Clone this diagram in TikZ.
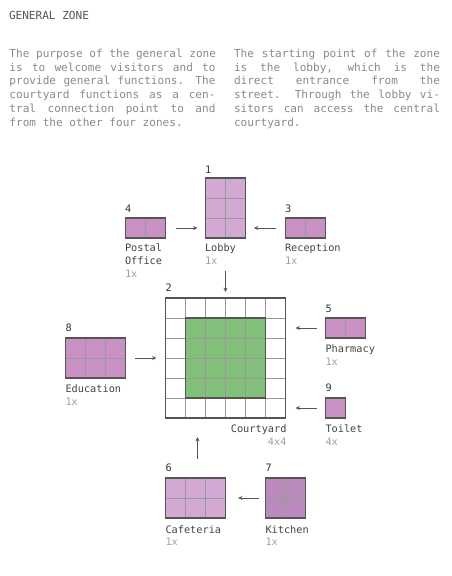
\documentclass[tikz,border=0pt]{standalone}
\usepackage{fontspec}
\newfontfamily\monof{DejaVu Sans Mono}
\usetikzlibrary{arrows.meta}
\definecolor{titlec}{HTML}{555555}
\definecolor{parac}{HTML}{8A8A8A}
\definecolor{labc}{HTML}{444444}
\definecolor{numc}{HTML}{333333}
\definecolor{cntc}{HTML}{A0A0A0}
\definecolor{bordc}{HTML}{555555}
\definecolor{gridc}{HTML}{999999}
\definecolor{arrc}{HTML}{555555}
\definecolor{lightp}{HTML}{D3A9D3}
\definecolor{midp}{HTML}{C990C4}
\definecolor{darkp}{HTML}{B98ABB}
\definecolor{greenc}{HTML}{82BF7A}
\newlength\colw
\setlength\colw{154.5pt}
\newcommand\jline[1]{\hbox to \colw{\spaceskip=\fontdimen2\font plus 1fil\relax #1}}
\newcommand\lline[1]{\hbox to \colw{#1\hfil}}
\newcommand\bigf{\monof\fontsize{8.3}{10.3}\selectfont}
\newcommand\smallf{\monof\fontsize{7.7}{9.5}\selectfont}
\tikzset{
  room/.style={inner sep=0pt, outer sep=0pt, anchor=north west, draw=none},
  gridl/.style={draw=gridc, line width=0.75pt},
  bordl/.style={draw=bordc, line width=0.9pt},
  txt/.style={inner sep=0pt, outer sep=0pt, anchor=base west},
  lab/.style={txt, font=\smallf, text=labc},
  num/.style={txt, font=\smallf, text=numc},
  cnt/.style={txt, font=\smallf, text=cntc},
  arr/.style={draw=arrc, line width=0.7pt, -{Stealth[length=3.2pt,width=3pt]}},
}
% name, x, y, cols, rows, fill
\newcommand\room[6]{%
  \node[room, fill=#6, minimum width=#4*15pt, minimum height=#5*15pt] (#1) at (#2,#3) {};
  \begin{scope}[shift={(#1.north west)}]
    \draw[gridl] (0,0) grid[step=15pt] (#4*20,#5*20);
  \end{scope}
  \draw[bordl] (#1.north west) rectangle (#1.south east);
}
\begin{document}
\begin{tikzpicture}[x=0.75pt,y=-0.75pt]
\useasboundingbox[fill=white] (0,0) rectangle (451,576);

% title
\node[txt, font=\bigf, text=titlec] (title) at (9,19) {GENERAL ZONE};

% paragraphs
\node[txt, font=\bigf, text=parac] (parl) at (9.5,57.5) {\vtop{\baselineskip=10.28pt\lineskiplimit=-20pt
\jline{The purpose of the general zone}
\jline{is to welcome visitors and to}
\jline{provide general functions. The}
\jline{courtyard functions as a cen-}
\jline{tral connection point to and}
\lline{from the other four zones.}}};
\node[txt, font=\bigf, text=parac] (parr) at (234,57.5) {\vtop{\baselineskip=10.28pt\lineskiplimit=-20pt
\jline{The starting point of the zone}
\jline{is the lobby, which is the}
\jline{direct entrance from the}
\jline{street. Through the lobby vi-}
\jline{sitors can access the central}
\lline{courtyard.}}};

% rooms
\room{lobby}{205.5}{178}{2}{3}{lightp}
\room{postal}{125.5}{218}{2}{1}{midp}
\room{reception}{285.5}{218}{2}{1}{midp}
\room{education}{65.5}{338}{3}{2}{midp}
\room{pharmacy}{325.5}{318}{2}{1}{midp}
\room{toilet}{325.5}{398}{1}{1}{midp}
\room{cafeteria}{165.5}{478}{3}{2}{lightp}
\room{kitchen}{265.5}{478}{2}{2}{darkp}

% courtyard
\node[room, fill=white, minimum width=90pt, minimum height=90pt] (court) at (165.5,298) {};
\node[room, fill=greenc, minimum width=60pt, minimum height=60pt] (courtin) at (185.5,318) {};
\begin{scope}[shift={(court.north west)}]
  \draw[gridl] (0,0) grid[step=15pt] (120,120);
\end{scope}
\draw[bordl] (court.north west) rectangle (court.south east);
\draw[bordl] (courtin.north west) rectangle (courtin.south east);

% numbers
\node[num] (n1) at (205,173.5) {1};
\node[num] (n4) at (125,212) {4};
\node[num] (n3) at (285,212) {3};
\node[num] (n2) at (165.5,291) {2};
\node[num] (n8) at (65.5,331) {8};
\node[num] (n5) at (325.5,312) {5};
\node[num] (n9) at (325.5,391) {9};
\node[num] (n6) at (165.5,471) {6};
\node[num] (n7) at (265.5,471) {7};

% labels
\node[lab] (lpostal) at (125,251) {Postal};
\node[lab] (lpostal2) at (125,264.5) {Office};
\node[cnt] (cpostal) at (125,277.5) {1x};
\node[lab] (llobby) at (205,251) {Lobby};
\node[cnt] (clobby) at (205,264.5) {1x};
\node[lab] (lrec) at (285,251) {Reception};
\node[cnt] (crec) at (285,264.5) {1x};
\node[lab] (ledu) at (65.5,392.5) {Education};
\node[cnt] (cedu) at (65.5,405.5) {1x};
\node[lab] (lpharm) at (325.5,352) {Pharmacy};
\node[cnt] (cpharm) at (325.5,365) {1x};
\node[lab] (ltoilet) at (325.5,432) {Toilet};
\node[cnt] (ctoilet) at (325.5,445) {4x};
\node[lab, anchor=base east] (lcourt) at (286.5,432) {Courtyard};
\node[cnt, anchor=base east] (ccourt) at (286.5,445) {4x4};
\node[lab] (lcafe) at (165.5,533) {Cafeteria};
\node[cnt] (ccafe) at (165.5,545.5) {1x};
\node[lab] (lkit) at (265.5,533) {Kitchen};
\node[cnt] (ckit) at (265.5,545.5) {1x};

% arrows
\draw[arr, shorten <=7.5pt, shorten >=6pt] (postal.east) -- (postal.east -| lobby.west);
\draw[arr, shorten <=7.5pt, shorten >=6.3pt] (reception.west) -- (reception.west -| lobby.east);
\draw[arr, shorten <=24.75pt, shorten >=4.5pt] (lobby.south) -- (lobby.south |- court.north);
\draw[arr, shorten <=7.1pt, shorten >=6.75pt] (education.east) -- (education.east -| court.west);
\draw[arr, shorten <=6.75pt, shorten >=7.5pt] (pharmacy.west) -- (pharmacy.west -| court.east);
\draw[arr, shorten <=6.75pt, shorten >=7.5pt] (toilet.west) -- (toilet.west -| court.east);
\draw[arr, shorten <=14.25pt, shorten >=14.25pt] ([xshift=1.5pt]cafeteria.north) -- ([xshift=1.5pt]cafeteria.north |- court.south);
\draw[arr, shorten <=5pt, shorten >=9.5pt] (kitchen.west) -- (kitchen.west -| cafeteria.east);
\end{tikzpicture}
\end{document}
